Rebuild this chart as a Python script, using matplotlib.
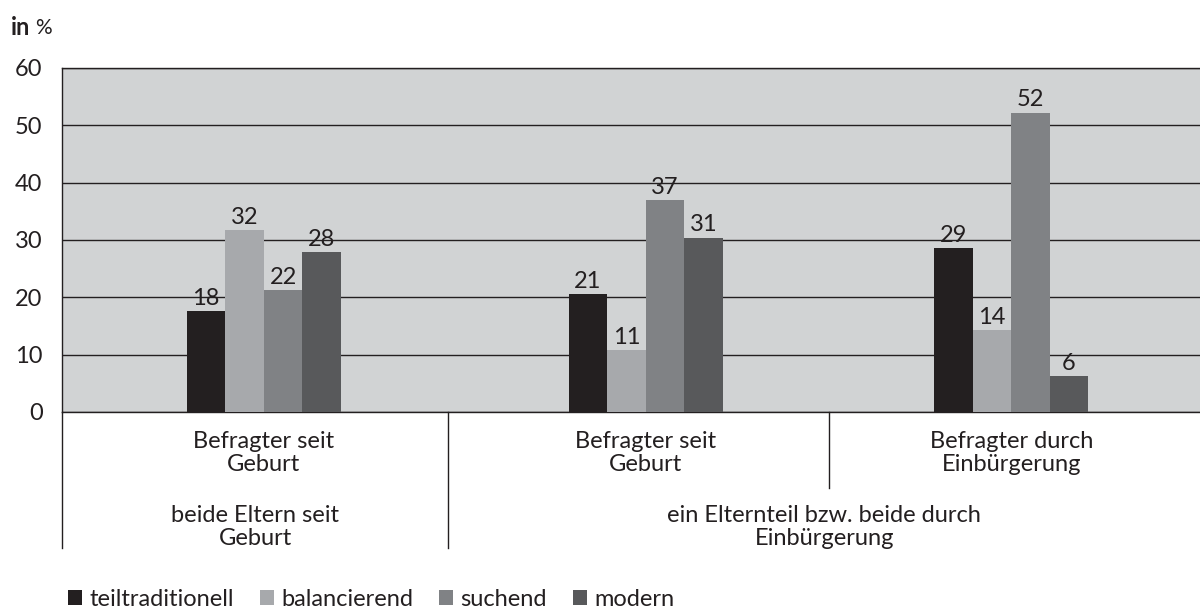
import numpy as np
import matplotlib.pyplot as plt
from matplotlib.patches import Patch

plt.rcParams['font.family'] = ['Lato', 'DejaVu Sans']

# data
series = ['teiltraditionell', 'balancierend', 'suchend', 'modern']
colors = ['#231f20', '#a7a9ac', '#808285', '#58595b']
sub_cats = ['Befragter seit\nGeburt', 'Befragter seit\nGeburt', 'Befragter durch\nEinbürgerung']
top_cats = ['beide Eltern seit\nGeburt', 'ein Elternteil bzw. beide durch\nEinbürgerung']
heights = {
    'teiltraditionell': [17.6, 20.6, 28.6],
    'balancierend': [31.7, 10.8, 14.3],
    'suchend': [21.3, 37.0, 52.2],
    'modern': [27.9, 30.4, 6.3],
}
labels = {
    'teiltraditionell': [18, 21, 29],
    'balancierend': [32, 11, 14],
    'suchend': [22, 37, 52],
    'modern': [28, 31, 6],
}

TXT = '#231f20'
FS = 17

fig = plt.figure(figsize=(12, 6.13), dpi=100)
ax = fig.add_axes([0.0517, 0.3279, 0.9483, 0.5612])
ax.set_facecolor('#d1d3d4')

x = np.array([0.0, 1.022, 2.0])
w = 0.103
for i, s in enumerate(series):
    xs = x + (i - 1.5) * w
    ax.bar(xs, heights[s], w, color=colors[i], zorder=3)
    for xi, h, lab in zip(xs, heights[s], labels[s]):
        ax.text(xi, h + 0.4, str(lab), ha='center', va='bottom', fontsize=FS, color=TXT, zorder=4)

x0, x1 = -0.54, 2.505
ax.set_ylim(0, 60)
ax.set_xlim(x0, x1)
ax.set_yticks(range(0, 61, 10))
ax.tick_params(axis='y', length=0, labelsize=FS, pad=14, labelcolor=TXT)
ax.set_xticks([])
ax.yaxis.grid(True, color=TXT, linewidth=1.0, zorder=1)
ax.spines['right'].set_visible(False)
for sp in ['left', 'top', 'bottom']:
    ax.spines[sp].set_color(TXT)
    ax.spines[sp].set_linewidth(1.0)

# category axis below the plot
trans = ax.get_xaxis_transform()
sep1, sep2 = 0.494, 1.512
for xi, lab in zip(x, sub_cats):
    ax.text(xi, -0.055, lab, transform=trans, ha='center', va='top', fontsize=FS,
            color=TXT, linespacing=1.1)
ax.text((x0 + sep1) / 2, -0.27, top_cats[0], transform=trans, ha='center', va='top',
        fontsize=FS, color=TXT, linespacing=1.1)
ax.text((sep1 + x1) / 2, -0.27, top_cats[1], transform=trans, ha='center', va='top',
        fontsize=FS, color=TXT, linespacing=1.1)

ax.plot([x0, x0], [0, -0.396], transform=trans, color=TXT, lw=1, clip_on=False)
ax.plot([sep1, sep1], [0, -0.396], transform=trans, color=TXT, lw=1, clip_on=False)
ax.plot([sep2, sep2], [0, -0.22], transform=trans, color=TXT, lw=1, clip_on=False)

fig.text(0.009, 0.955, 'in', fontsize=FS, fontweight='bold', color=TXT, va='center')
fig.text(0.029, 0.955, '%', fontsize=FS - 2, color=TXT, va='center')

handles = [Patch(facecolor=c, edgecolor='none') for c in colors]
fig.legend(handles, series, loc='lower left', bbox_to_anchor=(0.039, -0.03), ncol=4,
           frameon=False, fontsize=FS, handlelength=0.6, handleheight=0.6,
           handletextpad=0.3, columnspacing=1.1, labelcolor=TXT)

fig.savefig('out.png', dpi=100)
